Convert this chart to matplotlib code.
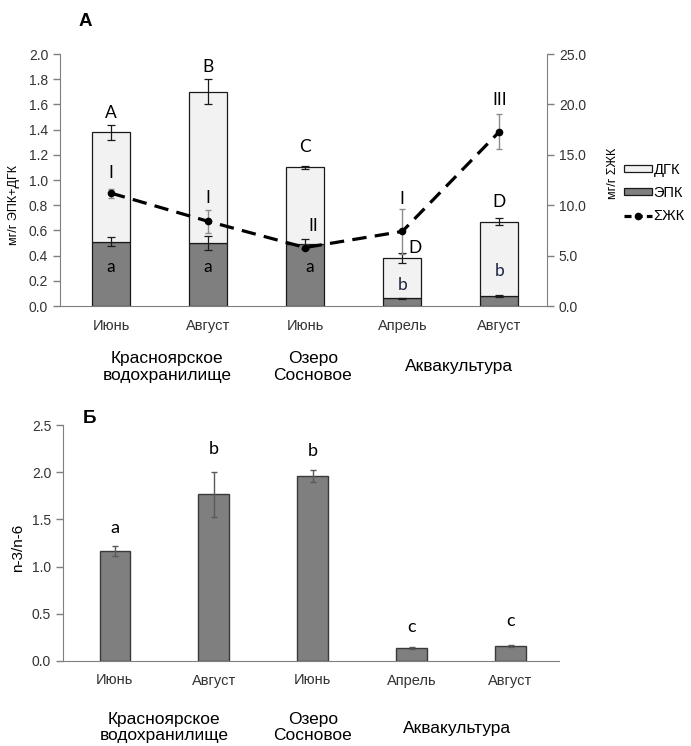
import numpy as np
import matplotlib
matplotlib.use("Agg")
import matplotlib.pyplot as plt
from matplotlib.patches import Patch
from matplotlib.lines import Line2D

plt.rcParams['font.family'] = ['Liberation Sans', 'DejaVu Sans']

# подписи по оси x
months = ["Июнь", "Август", "Июнь", "Апрель", "Август"]
groups_top = ["Красноярское\nводохранилище", "Озеро\nСосновое", "Аквакультура"]

# панель А: ЭПК, ДГК (мг/г), сумма ЖК (мг/г)
epa = [0.51, 0.50, 0.49, 0.06, 0.08]
epa_err = [0.035, 0.055, 0.04, 0.005, 0.005]
total = [1.38, 1.70, 1.10, 0.38, 0.67]       # ЭПК+ДГК
total_err = [0.06, 0.10, 0.015, 0.04, 0.025]
dha = [t - e for t, e in zip(total, epa)]
sfa = [11.2, 8.4, 5.8, 7.4, 17.3]            # ΣЖК
sfa_err = [0.45, 1.15, 0.3, 2.2, 1.75]

# буквы значимости
letters_total = ["A", "B", "C", "D", "D"]
letters_epa = ["a", "a", "a", "b", "b"]
letters_sfa = ["I", "I", "II", "I", "III"]

# панель Б: n-3/n-6
ratio = [1.165, 1.766, 1.96, 0.134, 0.159]
ratio_err = [0.05, 0.24, 0.06, 0.01, 0.01]
letters_ratio = ["a", "b", "b", "c", "c"]

fig = plt.figure(figsize=(6.91, 7.46), dpi=100)
W, H = 691, 746
ax1 = fig.add_axes([60 / W, 1 - 306 / H, (547 - 60) / W, (306 - 54) / H])
ax2 = ax1.twinx()
ax3 = fig.add_axes([63 / W, 1 - 661 / H, (559 - 63) / W, (661 - 425) / H])

x = np.arange(len(months))
spine_c = "#7f7f7f"
tick_c = "#333333"

# ---- панель А ----
ax1.bar(x, epa, 0.39, color="#7f7f7f", edgecolor="#1a1a1a", linewidth=0.9, zorder=2)
ax1.bar(x, dha, 0.39, bottom=epa, color="#f2f2f2", edgecolor="#1a1a1a", linewidth=0.9, zorder=2)
ax1.errorbar(x, epa, yerr=epa_err, fmt="none", ecolor="#1a1a1a", elinewidth=0.9, capsize=3, capthick=0.9, zorder=3)
ax1.errorbar(x, total, yerr=total_err, fmt="none", ecolor="#1a1a1a", elinewidth=0.9, capsize=3, capthick=0.9, zorder=3)

ax2.errorbar(x, sfa, yerr=sfa_err, fmt="none", ecolor="#8c8c8c", elinewidth=1.0, capsize=2.5, capthick=1.0, zorder=4)
ax2.plot(x, sfa, color="black", lw=2.3, dashes=(4.5, 2.6), marker="o", ms=4.5, zorder=5)

ax1.set_xlim(-0.525, 4.49)
ax1.set_ylim(0, 2.0)
ax2.set_ylim(0, 25)
ax1.set_yticks(np.arange(0, 2.01, 0.2))
ax1.set_yticklabels([f"{v:.1f}" for v in np.arange(0, 2.01, 0.2)])
ax2.set_yticks(np.arange(0, 25.1, 5))
ax2.set_yticklabels([f"{v:.1f}" for v in np.arange(0, 25.1, 5)])
ax1.set_xticks(x)
ax1.set_xticklabels(months, fontsize=10.5)

ann = dict(family=["Lato", "DejaVu Sans"], ha="center", va="center")
fs = 12.5
ax1.text(0, 1.53, letters_total[0], fontsize=fs, **ann)
ax1.text(1, 1.90, letters_total[1], fontsize=fs, **ann)
ax1.text(2, 1.265, letters_total[2], fontsize=fs, **ann)
ax1.text(3.13, 0.463, letters_total[3], fontsize=fs, **ann)
ax1.text(4, 0.828, letters_total[4], fontsize=fs, **ann)
ax1.text(0, 0.312, letters_epa[0], fontsize=fs, **ann)
ax1.text(1, 0.312, letters_epa[1], fontsize=fs, **ann)
ax1.text(2.05, 0.312, letters_epa[2], fontsize=fs, **ann)
ax1.text(3, 0.165, letters_epa[3], fontsize=fs, color="#1c2340", **ann)
ax1.text(4, 0.28, letters_epa[4], fontsize=fs, color="#1c2340", **ann)
ax1.text(0, 1.053, letters_sfa[0], fontsize=fs, **ann)
ax1.text(1, 0.855, letters_sfa[1], fontsize=fs, **ann)
ax1.text(2.08, 0.637, letters_sfa[2], fontsize=fs, **ann)
ax1.text(3, 0.847, letters_sfa[3], fontsize=fs, **ann)
ax1.text(4, 1.635, letters_sfa[4], fontsize=fs, **ann)

ax1.set_ylabel("мг/г ЭПК+ДГК", fontsize=9)
ax1.yaxis.set_label_coords(-0.082, 0.40)
ax2.set_ylabel("мг/г ΣЖК", fontsize=9)
ax2.yaxis.set_label_coords(1.123, 0.528)

for ax in (ax1, ax2):
    ax.spines["top"].set_visible(False)
ax1.spines["right"].set_visible(False)
ax2.spines["left"].set_visible(False)
ax2.spines["bottom"].set_visible(False)
ax1.spines["left"].set_color(spine_c)
ax1.spines["bottom"].set_color(spine_c)
ax2.spines["right"].set_color(spine_c)
ax1.tick_params(axis="x", length=0, pad=9, colors=tick_c)
ax1.tick_params(axis="y", length=5, width=1, color=spine_c, labelcolor=tick_c, labelsize=10, direction="out")
ax2.tick_params(axis="y", length=5, width=1, color=spine_c, labelcolor=tick_c, labelsize=10, direction="out")

gt = ax1.get_xaxis_transform()
ax1.text(0.58, -0.242, groups_top[0], transform=gt, ha="center", va="center", fontsize=12.5, linespacing=1.1)
ax1.text(2.08, -0.242, groups_top[1], transform=gt, ha="center", va="center", fontsize=12.5, linespacing=1.1)
ax1.text(3.58, -0.242, groups_top[2], transform=gt, ha="center", va="center", fontsize=12.5)

fig.text(85 / W, 1 - 22 / H, "A", fontsize=13.5, fontweight="bold", ha="center", va="center")

handles = [
    Patch(facecolor="#f2f2f2", edgecolor="#1a1a1a", linewidth=0.9, label="ДГК"),
    Patch(facecolor="#7f7f7f", edgecolor="#1a1a1a", linewidth=0.9, label="ЭПК"),
    Line2D([0], [0], color="black", lw=2.3, dashes=(2.2, 1.3), marker="o", ms=4.5, label="ΣЖК"),
]
fig.legend(handles=handles, loc="center left", bbox_to_anchor=(624 / W, 1 - 193 / H), frameon=False,
           fontsize=10.5, handlelength=1.9, handleheight=0.35, handletextpad=0.12, labelspacing=0.63,
           borderpad=0, borderaxespad=0)

# ---- панель Б ----
ax3.bar(x, ratio, 0.31, color="#7f7f7f", edgecolor="#3a3a3a", linewidth=1.0, zorder=2)
ax3.errorbar(x, ratio, yerr=ratio_err, fmt="none", ecolor="#595959", elinewidth=1.0, capsize=2.5, capthick=1.0, zorder=3)
ax3.set_xlim(-0.525, 4.49)
ax3.set_ylim(0, 2.5)
ax3.set_yticks(np.arange(0, 2.51, 0.5))
ax3.set_yticklabels([f"{v:.1f}" for v in np.arange(0, 2.51, 0.5)])
ax3.set_xticks(x)
ax3.set_xticklabels(months, fontsize=10.5)
ax3.spines["top"].set_visible(False)
ax3.spines["right"].set_visible(False)
ax3.spines["left"].set_color(spine_c)
ax3.spines["bottom"].set_color(spine_c)
ax3.tick_params(axis="x", length=0, pad=9, colors=tick_c)
ax3.tick_params(axis="y", length=5, width=1, color=spine_c, labelcolor=tick_c, labelsize=10, direction="out")
ax3.set_ylabel("n-3/n-6", fontsize=11)
ax3.yaxis.set_label_coords(-0.077, 0.48)

ratio_pos = [1.41, 2.25, 2.22, 0.36, 0.42]
for xi, yi, s in zip(x, ratio_pos, letters_ratio):
    ax3.text(xi, yi, s, fontsize=13, **ann)

gb = ax3.get_xaxis_transform()
ax3.text(0.5, -0.282, groups_top[0], transform=gb, ha="center", va="center", fontsize=12.5, linespacing=1.1)
ax3.text(2.0, -0.282, groups_top[1], transform=gb, ha="center", va="center", fontsize=12.5, linespacing=1.1)
ax3.text(3.46, -0.284, groups_top[2], transform=gb, ha="center", va="center", fontsize=12.5)

fig.text(90 / W, 1 - 418 / H, "Б", fontsize=13.5, fontweight="bold", ha="center", va="center")

fig.savefig("out.png", dpi=100)
